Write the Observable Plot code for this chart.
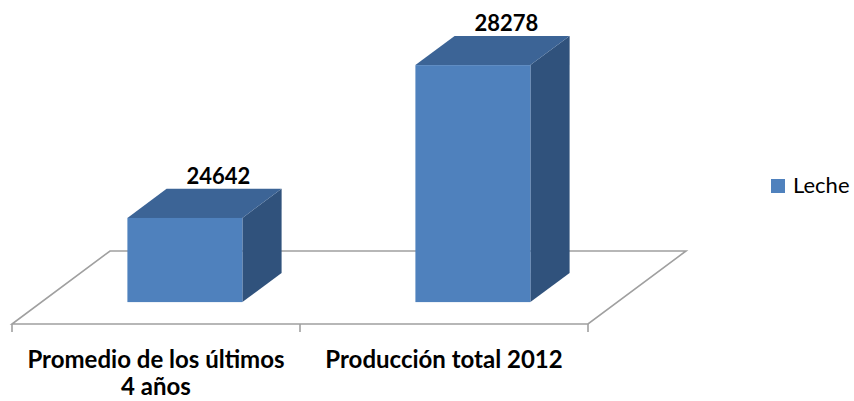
<!DOCTYPE html>
<html>
<head>
<meta charset="utf-8">
<script src="https://cdn.jsdelivr.net/npm/d3@7"></script>
<script src="https://cdn.jsdelivr.net/npm/@observablehq/plot@0.6"></script>
<style>
  html, body { margin: 0; padding: 0; background: #fff; }
  #chart { width: 854px; height: 401px; }
</style>
</head>
<body>
<div id="chart"></div>
<script>
// ---- data ----
const categories = ["Promedio de los últimos\n4 años", "Producción total 2012"];
const values = [24642, 28278];
const seriesName = "Leche";
const yFloor = 22640;   // value at the chart floor (axis minimum)
const yTop = 28278;

// ---- style ----
const frontColor = "#4F81BD";
const topColor = "#3C6496";
const sideColor = "#30527C";
const floorColor = "#A0A0A0";
const depth = [98, -73];          // floor depth offset in px (oblique 3D)
const barFront = 0.3, barBack = 0.7; // bar position within the depth

const data = categories.map((c, i) => ({category: c, value: values[i]}));
const fdx = depth[0] * barFront, fdy = depth[1] * barFront;
const bdx = depth[0] * barBack, bdy = depth[1] * barBack;

const plot = Plot.plot({
  width: 854,
  height: 401,
  marginLeft: 12,
  marginRight: 266,
  marginTop: 87,
  marginBottom: 77,
  style: {fontFamily: "Lato, 'Open Sans', sans-serif", background: "white", color: "black"},
  x: {domain: categories, paddingInner: 0.6, paddingOuter: 0.3, axis: null},
  y: {domain: [yFloor, yTop], axis: null},
  marks: [
    Plot.barY(data, {x: "category", y1: yFloor, y2: "value", fill: frontColor, dx: fdx, dy: fdy}),
    Plot.text(data, {x: "category", y: "value", text: d => String(d.value), dx: fdx + 33, dy: bdy - 5,
      lineAnchor: "bottom", fontWeight: "bold", fontSize: 22, fill: "black"}),
    Plot.text(data, {x: "category", y: yFloor, text: "category", dy: 24, lineAnchor: "top",
      lineHeight: 1.13, fontWeight: "bold", fontSize: 24, fill: "black"})
  ]
});

document.getElementById("chart").appendChild(plot);

// ---- 3D faces and floor, positioned through Plot's own scales ----
function getScale(name) {
  const s = plot.scale(name);
  return s.apply ? s : Plot.scale({[name]: s});
}
const xs = getScale("x");
const ys = getScale("y");
const svg = d3.select(plot);
const bw = xs.bandwidth;
const [r0, r1] = xs.range;
const step = xs.step;
const y0 = ys.apply(yFloor);

// floor (behind everything)
const floor = svg.insert("g", ":first-child").attr("fill", "none").attr("stroke", floorColor).attr("stroke-width", 1.6);
floor.append("path").attr("d",
  `M${r0},${y0}L${r1},${y0}L${r1 + depth[0]},${y0 + depth[1]}L${r0 + depth[0]},${y0 + depth[1]}Z`);
const tickXs = d3.range(categories.length + 1).map(i => r0 + i * step);
floor.selectAll("line").data(tickXs).join("line")
  .attr("x1", d => d).attr("x2", d => d).attr("y1", y0).attr("y2", y0 + 8);

// side and top faces
const faces = svg.insert("g", "g[aria-label='bar']");
data.forEach(d => {
  const xl = xs.apply(d.category) + fdx;
  const xr = xl + bw;
  const yt = ys.apply(d.value) + fdy;
  const yb = y0 + fdy;
  const ox = bdx - fdx, oy = bdy - fdy;
  faces.append("path").attr("fill", sideColor)
    .attr("d", `M${xr},${yb}L${xr},${yt}L${xr + ox},${yt + oy}L${xr + ox},${yb + oy}Z`);
  faces.append("path").attr("fill", topColor)
    .attr("d", `M${xl},${yt}L${xr},${yt}L${xr + ox},${yt + oy}L${xl + ox},${yt + oy}Z`);
});

// legend
const lg = svg.append("g");
lg.append("rect").attr("x", 771).attr("y", 179).attr("width", 14).attr("height", 14).attr("fill", frontColor);
lg.append("text").attr("x", 793).attr("y", 193).attr("text-anchor", "start")
  .attr("font-size", 22).attr("fill", "black").text(seriesName);
</script>
</body>
</html>
